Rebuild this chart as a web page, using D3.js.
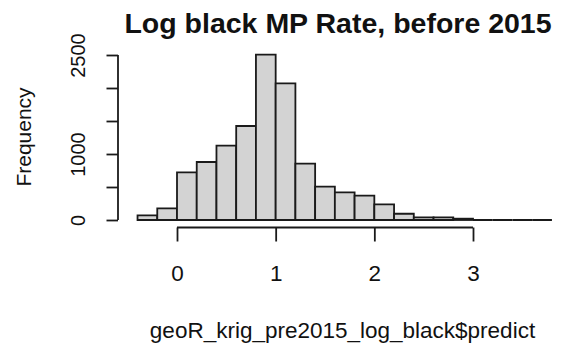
<!DOCTYPE html>
<html>
<head>
<meta charset="utf-8">
<script src="https://cdn.jsdelivr.net/npm/d3@7"></script>
<style>
  html, body { margin: 0; padding: 0; background: #fff; }
  svg { display: block; }
  text { font-family: "Liberation Sans", Arial, sans-serif; fill: #111; }
</style>
</head>
<body>
<svg id="chart" width="561" height="350"></svg>
<script>
// Histogram bins (edges) and frequency per bin
const binEdges = [-0.4, -0.2, 0, 0.2, 0.4, 0.6, 0.8, 1.0, 1.2, 1.4, 1.6, 1.8,
                  2.0, 2.2, 2.4, 2.6, 2.8, 3.0, 3.2, 3.4, 3.6, 3.8];
const counts = [70, 177, 723, 879, 1126, 1424, 2505, 2071, 853, 505, 420,
                368, 238, 95, 41, 41, 20, 0, 0, 0, 0];
const xTicks = [0, 1, 2, 3];
const xTickLabels = ["0", "1", "2", "3"];
const yTicks = [0, 500, 1000, 1500, 2000, 2500];
const yTickLabels = ["0", "", "1000", "", "", "2500"];

const titleText = "Log black MP Rate, before 2015";
const xLabel = "geoR_krig_pre2015_log_black$predict";
const yLabel = "Frequency";

const svg = d3.select("#chart");
const ink = "#1a1a1a";
const lw = 1.8;

const x = d3.scaleLinear().domain([0, 3]).range([177, 473]);
const y = d3.scaleLinear().domain([0, 2500]).range([220, 55]);

const yAxisX = 118;      // left edge of the plotting region
const xAxisY = 227.5;    // bottom edge of the plotting region

// Bars: drawn as closed paths so empty bins still show as a flat line
const bars = binEdges.slice(0, -1).map((e, i) => ({ x0: e, x1: binEdges[i + 1], n: counts[i] }));
svg.append("g")
  .selectAll("path")
  .data(bars)
  .join("path")
  .attr("d", d => {
    const a = x(d.x0), b = x(d.x1), top = y(d.n), base = y(0);
    return `M${a},${base}V${top}H${b}V${base}Z`;
  })
  .attr("fill", "#d3d3d3")
  .attr("stroke", ink)
  .attr("stroke-width", lw)
  .attr("stroke-linejoin", "miter");

// x axis
const xAxis = d3.axisBottom(x)
  .tickValues(xTicks)
  .tickFormat((d, i) => xTickLabels[i])
  .tickSize(14)
  .tickSizeOuter(0)
  .tickPadding(24);
const gx = svg.append("g").attr("transform", `translate(0,${xAxisY})`).call(xAxis);
gx.select(".domain").attr("stroke", ink).attr("stroke-width", lw)
  .attr("d", `M${x(xTicks[0])},0H${x(xTicks[xTicks.length - 1])}`);
gx.selectAll(".tick line").attr("stroke", ink).attr("stroke-width", lw);
gx.selectAll(".tick text")
  .attr("font-family", "Liberation Sans, Arial, sans-serif")
  .attr("font-size", 22.5).attr("fill", "#111")
  .attr("dy", "0.71em");

// y axis
const yAxis = d3.axisLeft(y)
  .tickValues(yTicks)
  .tickFormat((d, i) => yTickLabels[i])
  .tickSize(11.5)
  .tickSizeOuter(0)
  .tickPadding(0);
const gy = svg.append("g").attr("transform", `translate(${yAxisX},0)`).call(yAxis);
gy.select(".domain").attr("stroke", ink).attr("stroke-width", lw)
  .attr("d", `M0,${y(yTicks[0])}V${y(yTicks[yTicks.length - 1])}`);
gy.selectAll(".tick line").attr("stroke", ink).attr("stroke-width", lw);
gy.selectAll(".tick text")
  .attr("font-family", "Liberation Sans, Arial, sans-serif")
  .attr("font-size", 20).attr("fill", "#111")
  .attr("x", 0).attr("dy", 0)
  .attr("text-anchor", "middle")
  .attr("transform", `translate(-33,0) rotate(-90)`);

// Title and axis titles
svg.append("text")
  .attr("x", 338).attr("y", 33)
  .attr("text-anchor", "middle")
  .attr("font-weight", "bold")
  .attr("font-size", 28.5)
  .text(titleText);

svg.append("text")
  .attr("x", 342.5).attr("y", 337.5)
  .attr("text-anchor", "middle")
  .attr("font-size", 22.5)
  .text(xLabel);

svg.append("text")
  .attr("transform", "translate(31,137) rotate(-90)")
  .attr("text-anchor", "middle")
  .attr("font-size", 21)
  .text(yLabel);
</script>
</body>
</html>
